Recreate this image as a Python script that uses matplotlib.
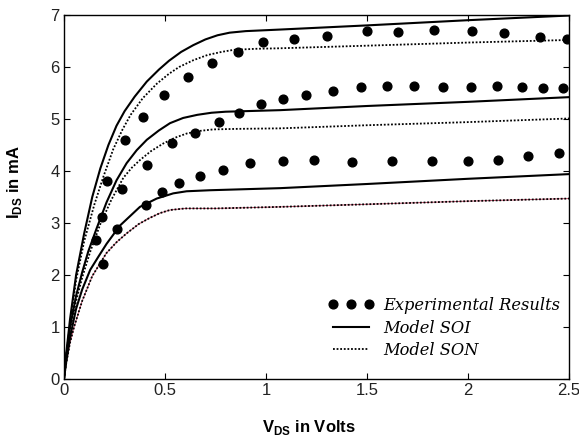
import numpy as np
import matplotlib
matplotlib.use('Agg')
import matplotlib.pyplot as plt

plt.rcParams['font.family'] = ['Liberation Sans', 'DejaVu Sans']
plt.rcParams['mathtext.fontset'] = 'custom'
plt.rcParams['mathtext.rm'] = 'Liberation Sans:bold'
plt.rcParams['mathtext.bf'] = 'Liberation Sans:bold'

# experimental points, three gate voltages (top, middle, bottom)
exp_top_x = [0.157, 0.19, 0.211, 0.304, 0.393, 0.495, 0.615, 0.731, 0.861, 0.987, 1.139,
             1.30, 1.498, 1.652, 1.833, 2.021, 2.18, 2.356, 2.49]
exp_top_y = [2.67, 3.12, 3.81, 4.60, 5.03, 5.46, 5.80, 6.08, 6.29, 6.48, 6.53,
             6.60, 6.69, 6.67, 6.72, 6.69, 6.65, 6.58, 6.54]
exp_mid_x = [0.287, 0.409, 0.535, 0.65, 0.769, 0.865, 0.975, 1.083, 1.198, 1.333,
             1.47, 1.597, 1.733, 1.878, 2.015, 2.142, 2.266, 2.37, 2.47]
exp_mid_y = [3.65, 4.11, 4.53, 4.74, 4.95, 5.11, 5.28, 5.39, 5.46, 5.54,
             5.61, 5.63, 5.63, 5.61, 5.61, 5.63, 5.61, 5.59, 5.59]
exp_bot_x = [0.191, 0.264, 0.406, 0.484, 0.569, 0.673, 0.785, 0.921, 1.083, 1.238,
             1.426, 1.622, 1.823, 1.999, 2.147, 2.299, 2.452]
exp_bot_y = [2.22, 2.88, 3.35, 3.60, 3.76, 3.91, 4.01, 4.15, 4.19, 4.21,
             4.17, 4.19, 4.19, 4.19, 4.21, 4.29, 4.35]

# model SOI (solid)
soi_top_x = [0, 0.01, 0.03, 0.06, 0.10, 0.14, 0.18, 0.22, 0.26, 0.30, 0.35, 0.41,
             0.47, 0.52, 0.58, 0.64, 0.70, 0.76, 0.82, 0.90, 1.07, 1.5, 2.0, 2.5]
soi_top_y = [0, 0.45, 1.15, 2.0, 2.8, 3.5, 4.05, 4.5, 4.87, 5.15, 5.43, 5.72,
             5.95, 6.12, 6.29, 6.42, 6.53, 6.61, 6.66, 6.69, 6.72, 6.80, 6.90, 6.99]
soi_mid_x = [0, 0.01, 0.03, 0.06, 0.09, 0.12, 0.162, 0.211, 0.26, 0.31, 0.36, 0.41,
             0.47, 0.525, 0.59, 0.66, 0.73, 0.80, 1.07, 1.5, 2.0, 2.5]
soi_mid_y = [0, 0.4, 1.0, 1.6, 2.05, 2.45, 2.9, 3.4, 3.82, 4.15, 4.4, 4.6,
             4.78, 4.92, 5.02, 5.08, 5.12, 5.14, 5.17, 5.25, 5.33, 5.42]
soi_bot_x = [0, 0.01, 0.03, 0.06, 0.09, 0.13, 0.17, 0.211, 0.277, 0.376, 0.459,
             0.541, 0.607, 0.723, 1.07, 1.5, 2.0, 2.5]
soi_bot_y = [0, 0.3, 0.8, 1.35, 1.72, 2.1, 2.35, 2.6, 2.95, 3.31, 3.47,
             3.57, 3.61, 3.63, 3.67, 3.75, 3.85, 3.94]

# model SON (dotted)
son_top_x = [0, 0.01, 0.03, 0.06, 0.10, 0.15, 0.195, 0.244, 0.29, 0.33, 0.39, 0.46,
             0.52, 0.57, 0.64, 0.71, 0.78, 0.84, 0.95, 1.07, 1.5, 2.0, 2.5]
son_top_y = [0, 0.42, 1.05, 1.9, 2.65, 3.35, 3.89, 4.42, 4.8, 5.08, 5.4, 5.68,
             5.87, 6.0, 6.13, 6.23, 6.29, 6.33, 6.35, 6.36, 6.41, 6.47, 6.52]
son_mid_x = [0, 0.01, 0.03, 0.06, 0.09, 0.13, 0.18, 0.235, 0.294, 0.335, 0.376, 0.43,
             0.492, 0.55, 0.607, 0.67, 0.739, 0.855, 1.07, 1.5, 2.0, 2.5]
son_mid_y = [0, 0.38, 0.95, 1.5, 1.95, 2.45, 2.98, 3.45, 3.87, 4.06, 4.21, 4.38,
             4.53, 4.64, 4.72, 4.77, 4.80, 4.81, 4.82, 4.88, 4.94, 5.01]
son_bot_x = [0, 0.01, 0.03, 0.05, 0.09, 0.14, 0.21, 0.26, 0.31, 0.37, 0.426, 0.475,
             0.525, 0.6, 0.75, 1.07, 1.5, 2.0, 2.5]
son_bot_y = [0, 0.28, 0.7, 1.0, 1.5, 1.98, 2.42, 2.63, 2.80, 2.98, 3.10, 3.19,
             3.25, 3.28, 3.28, 3.31, 3.36, 3.42, 3.47]

dots = (0, (1.0, 1.0))

fig = plt.figure(figsize=(5.79, 4.41), dpi=100)
ax = fig.add_axes([0.1105, 0.1406, 0.8722, 0.8254])

ax.plot(son_bot_x, son_bot_y, '-', color='#c0506a', lw=0.7)
for sx, sy in [(son_top_x, son_top_y), (son_mid_x, son_mid_y), (son_bot_x, son_bot_y)]:
    ax.plot(sx, sy, color='black', lw=1.3, ls=dots)
for sx, sy in [(soi_top_x, soi_top_y), (soi_mid_x, soi_mid_y), (soi_bot_x, soi_bot_y)]:
    ax.plot(sx, sy, '-', color='black', lw=1.5)
for ex, ey in [(exp_top_x, exp_top_y), (exp_mid_x, exp_mid_y), (exp_bot_x, exp_bot_y)]:
    ax.plot(ex, ey, 'o', color='black', markersize=6.3, ls='none')

h_exp, = ax.plot([], [], 'o', color='black', markersize=6.3, ls='none')
h_soi, = ax.plot([], [], '-', color='black', lw=1.5)
h_son, = ax.plot([], [], color='black', lw=1.3, ls=dots)
ax.legend([h_exp, h_soi, h_son], ['Experimental Results', 'Model SOI', 'Model SON'],
          numpoints=3, frameon=False, loc='lower right', bbox_to_anchor=(1.012, 0.015),
          prop={'family': 'DejaVu Serif', 'style': 'italic', 'size': 11.7},
          handlelength=2.8, handletextpad=0.6, labelspacing=0.33)

ax.set_xlim(0, 2.5)
ax.set_ylim(0, 7)
ax.set_xticks([0, 0.5, 1, 1.5, 2, 2.5])
ax.set_xticklabels(['0', '0.5', '1', '1.5', '2', '2.5'])
ax.tick_params(direction='in', top=True, right=True, length=4, labelsize=12, pad=3,
               labelcolor='#222222')
for s in ax.spines.values():
    s.set_linewidth(1.0)

ax.set_xlabel(r'V$_{\rm DS}$ in Volts', fontsize=12, fontweight='bold')
ax.set_ylabel(r'I$_{\rm DS}$ in mA', fontsize=12, fontweight='bold')
ax.xaxis.set_label_coords(0.485, -0.108)
ax.yaxis.set_label_coords(-0.08, 0.54)

fig.savefig('out.png', dpi=100)
